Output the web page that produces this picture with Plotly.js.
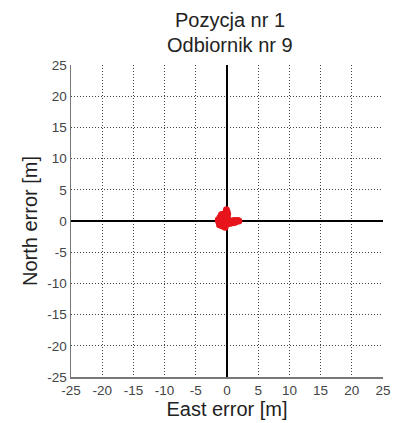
<!DOCTYPE html>
<html><head><meta charset="utf-8">
<script src="https://cdn.plot.ly/plotly-3.0.1.min.js"></script>
<style>html,body{margin:0;padding:0;background:#fff;}</style>
</head><body>
<div id="chart" style="width:394px;height:423px;"></div>
<script>
var titleLines = ["Pozycja nr 1", "Odbiornik nr 9"];
var xLabel = "East error [m]";
var yLabel = "North error [m]";
var tickVals = [-25,-20,-15,-10,-5,0,5,10,15,20,25];
var eastErr  = [-1.3,-1.1,-0.9,-0.7,-0.5,-0.3,-0.1,-1.2,-1.0,-0.8,-0.6,-0.4,-0.2,0.0,-1.1,-0.9,-0.7,-0.5,-0.3,-0.1,-0.9,-0.7,-0.5,-0.3,-0.6,-0.4,-0.2,0.0,0.1,0.0,-0.1,0.0,0.2,0.5,0.8,1.1,1.4,1.7,1.9,0.4,0.9,1.3,-0.3,-0.8,-1.4,-1.2];
var northErr = [-0.2,-0.5,-0.7,-0.8,-0.8,-0.6,-0.4,0.2,0.1,-0.2,-0.3,-0.1,0.0,-0.2,0.6,0.7,0.5,0.4,0.6,0.3,1.0,1.1,0.9,0.8,-0.5,0.2,0.5,0.6,1.1,1.5,1.8,1.3,0.2,0.0,-0.1,0.1,0.0,0.1,0.0,-0.4,-0.3,-0.2,-1.0,0.8,0.2,-0.6];

var FONT = 'Liberation Sans, Arial, sans-serif';
var data = [{
  x: eastErr, y: northErr, type: 'scatter', mode: 'markers',
  marker: {color: '#e8141c', size: 7, line: {width: 0}},
  hoverinfo: 'none'
}];
var axisCommon = {
  range: [-25, 25], tickvals: tickVals, ticktext: tickVals.map(String),
  showgrid: true, gridcolor: '#444', griddash: '1px,2px', gridwidth: 1,
  zeroline: true, zerolinecolor: '#000', zerolinewidth: 1.5,
  showline: true, linecolor: '#777', linewidth: 1.5, mirror: false,
  ticks: '', tickfont: {family: FONT, size: 13.5, color: '#444'},
  fixedrange: true
};
var layout = {
  width: 394, height: 423,
  margin: {l: 71, r: 11, t: 65, b: 46},
  paper_bgcolor: '#fff', plot_bgcolor: '#fff',
  showlegend: false,
  annotations: titleLines.map(function(t, i) {
    return {text: t, xref: 'paper', yref: 'paper', x: 0.51, y: 1, xanchor: 'center', yanchor: 'middle',
            yshift: i === 0 ? 45 : 20, showarrow: false,
            font: {family: FONT, size: 20, color: '#222'}};
  }),
  xaxis: Object.assign({}, axisCommon, {
    title: {text: xLabel, standoff: 3, font: {family: FONT, size: 20, color: '#222'}}
  }),
  yaxis: Object.assign({}, axisCommon, {
    title: {text: yLabel, standoff: 4, font: {family: FONT, size: 20, color: '#222'}}
  })
};
Plotly.newPlot('chart', data, layout, {displayModeBar: false, staticPlot: true});
</script>
</body></html>
